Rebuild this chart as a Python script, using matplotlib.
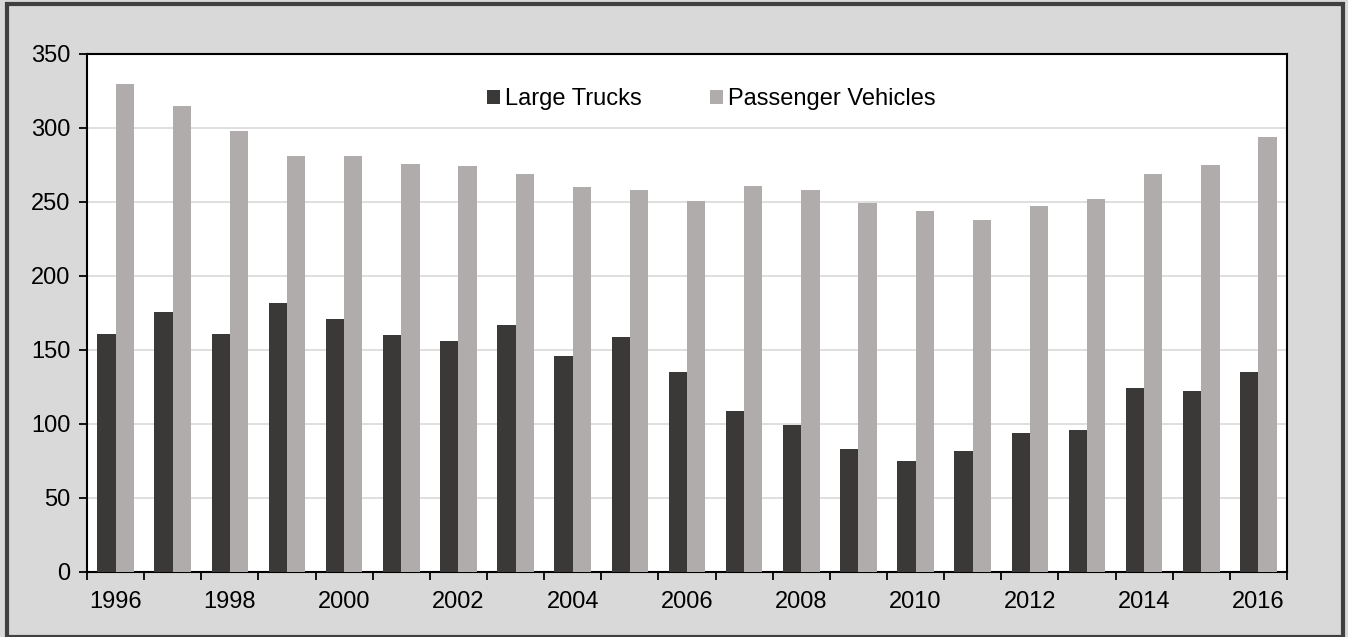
import numpy as np
import matplotlib.pyplot as plt
from matplotlib.patches import Rectangle

years = list(range(1996, 2017))
large_trucks = [161, 176, 161, 182, 171, 160, 156, 167, 146, 159, 135,
                109, 99, 83, 75, 82, 94, 96, 124, 122, 135]
passenger_vehicles = [330, 315, 298, 281, 281, 276, 274, 269, 260, 258, 251,
                      261, 258, 249, 244, 238, 247, 252, 269, 275, 294]

plt.rcParams['font.family'] = ['Liberation Sans', 'DejaVu Sans']

fig = plt.figure(figsize=(13.48, 6.37), dpi=100, facecolor='#d9d9d9')
ax = fig.add_axes([87 / 1348, 1 - 572 / 637, 1200 / 1348, 518 / 637])

# outer frame
fig.patches.append(Rectangle((7 / 1348, 0.0), 1336 / 1348, 1 - 4 / 637,
                             transform=fig.transFigure, fill=False,
                             edgecolor='#404040', linewidth=3))

x = np.arange(len(years))
w = 0.32
ax.bar(x - w / 2, large_trucks, w, color='#3a3937', label='Large Trucks', zorder=3)
ax.bar(x + w / 2, passenger_vehicles, w, color='#b0acab', label='Passenger Vehicles', zorder=3)

ax.set_xlim(-0.5, len(years) - 0.5)
ax.set_ylim(0, 350)
ax.set_yticks(range(0, 351, 50))
ax.yaxis.grid(True, color='#d9d9d9', linewidth=1.2, zorder=0)

# ticks at category boundaries, labels every other year
ax.set_xticks(np.arange(-0.5, len(years), 1.0))
ax.set_xticklabels([])
ax.set_xticks(x[::2], minor=True)
ax.set_xticklabels([str(y) for y in years[::2]], minor=True)
ax.tick_params(axis='x', which='minor', length=0, pad=14, labelsize=17)
ax.tick_params(axis='x', which='major', length=6, width=1.3, direction='out')
ax.tick_params(axis='y', length=6, width=1.3, labelsize=17, pad=6)

for s in ax.spines.values():
    s.set_linewidth(1.5)
    s.set_color('black')

ax.legend(loc='upper center', ncol=2, frameon=False, fontsize=17,
          handlelength=0.55, handleheight=0.55, handletextpad=0.2,
          columnspacing=2.9, bbox_to_anchor=(0.52, 0.975))

fig.savefig('out.png', dpi=100, facecolor=fig.get_facecolor())
